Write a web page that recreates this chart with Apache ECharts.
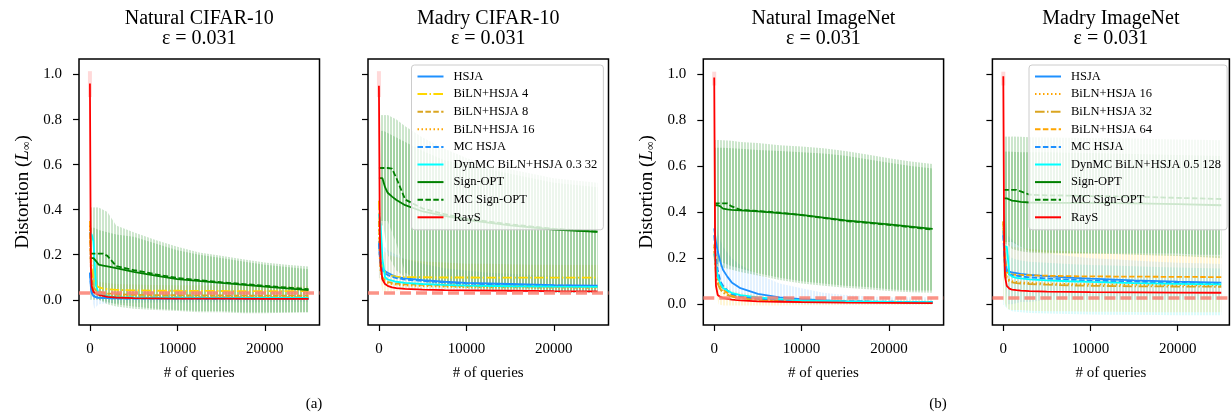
<!DOCTYPE html>
<html>
<head>
<meta charset="utf-8">
<script src="https://cdn.jsdelivr.net/npm/echarts@6/dist/echarts.min.js"></script>
<style>
  html, body { margin: 0; background: #fff; }
  #chart { width: 1232px; height: 419px; }
</style>
</head>
<body>
<div id="chart"></div>
<script>
// query grids
var Q = [0, 100, 200, 400, 700, 1000, 1500, 2000, 3000, 5000, 7500, 10000, 15000, 20000, 25000];
var BAND_Q = [0, 500, 1000, 2000, 3000, 5000, 7500, 10000, 12500, 15000, 17500, 20000, 22500, 25000];
var X_TICKS = [0, 10000, 20000];
var Y_TICKS = [0, 0.2, 0.4, 0.6, 0.8, 1.0];
var EPS = 0.031;

// (a) Natural CIFAR-10
var aHsja = [0.12, 0.06, 0.03, 0.016, 0.011, 0.009, 0.008, 0.007, 0.006, 0.006, 0.005, 0.005, 0.005, 0.005, 0.005];
var aBiln4 = [0.35, 0.22, 0.14, 0.09, 0.065, 0.056, 0.05, 0.047, 0.044, 0.042, 0.04, 0.04, 0.039, 0.038, 0.038];
var aBiln8 = [0.3, 0.16, 0.09, 0.055, 0.042, 0.036, 0.031, 0.028, 0.025, 0.022, 0.021, 0.02, 0.019, 0.018, 0.018];
var aBiln16 = [0.33, 0.15, 0.08, 0.045, 0.032, 0.026, 0.022, 0.02, 0.018, 0.016, 0.015, 0.014, 0.013, 0.013, 0.012];
var aMcHsja = [0.12, 0.07, 0.035, 0.018, 0.012, 0.009, 0.008, 0.007, 0.006, 0.005, 0.005, 0.005, 0.004, 0.004, 0.004];
var aDynmc = [0.3, 0.3, 0.29, 0.26, 0.06, 0.03, 0.02, 0.016, 0.012, 0.01, 0.009, 0.009, 0.008, 0.008, 0.008];
var aSignopt = [0.185, 0.185, 0.185, 0.185, 0.172, 0.156, 0.152, 0.148, 0.14, 0.124, 0.107, 0.092, 0.075, 0.058, 0.043];
var aMcSignopt = [0.205, 0.205, 0.205, 0.205, 0.205, 0.205, 0.205, 0.195, 0.15, 0.132, 0.113, 0.097, 0.078, 0.062, 0.047];
var aRays = [0.96, 0.15, 0.06, 0.035, 0.028, 0.022, 0.017, 0.013, 0.01, 0.007, 0.006, 0.005, 0.005, 0.004, 0.004];
var aRaysErr = [0.9, 1.015];
var aSignoptHi = [0.32, 0.32, 0.31, 0.30, 0.29, 0.28, 0.25, 0.22, 0.2, 0.185, 0.17, 0.155, 0.145, 0.135];
var aSignoptLo = [0.05, 0.05, 0.0, -0.01, -0.02, -0.03, -0.04, -0.045, -0.05, -0.05, -0.055, -0.055, -0.055, -0.055];
var aMcSignoptHi = [0.41, 0.41, 0.41, 0.39, 0.33, 0.3, 0.265, 0.235, 0.21, 0.195, 0.18, 0.165, 0.155, 0.148];
var aMcSignoptLo = [0.0, 0.0, 0.0, -0.02, -0.03, -0.04, -0.045, -0.05, -0.055, -0.055, -0.06, -0.06, -0.058, -0.055];
var aHsjaHi = [0.2, 0.05, 0.035, 0.03, 0.028, 0.026, 0.025, 0.024, 0.023, 0.022, 0.022, 0.021, 0.021, 0.02];
var aHsjaLo = [0.04, -0.04, -0.02, -0.015, -0.014, -0.013, -0.012, -0.012, -0.011, -0.011, -0.011, -0.01, -0.01, -0.01];
var aBilnHi = [0.5, 0.1, 0.08, 0.075, 0.07, 0.068, 0.066, 0.065, 0.064, 0.063, 0.062, 0.062, 0.061, 0.06];
var aBilnLo = [0.2, 0.0, 0.01, 0.015, 0.016, 0.017, 0.017, 0.018, 0.018, 0.018, 0.018, 0.018, 0.018, 0.018];

// (a) Madry CIFAR-10
var bHsja = [0.26, 0.2, 0.17, 0.14, 0.127, 0.12, 0.11, 0.102, 0.095, 0.087, 0.08, 0.075, 0.07, 0.065, 0.063];
var bBiln4 = [0.44, 0.3, 0.2, 0.145, 0.122, 0.112, 0.106, 0.103, 0.101, 0.1, 0.099, 0.099, 0.098, 0.098, 0.098];
var bBiln8 = [0.35, 0.2, 0.14, 0.1, 0.086, 0.08, 0.075, 0.072, 0.069, 0.066, 0.063, 0.061, 0.06, 0.058, 0.057];
var bBiln16 = [0.33, 0.18, 0.12, 0.09, 0.08, 0.075, 0.07, 0.067, 0.064, 0.061, 0.058, 0.056, 0.055, 0.054, 0.053];
var bMcHsja = [0.25, 0.19, 0.16, 0.13, 0.117, 0.11, 0.102, 0.096, 0.09, 0.083, 0.077, 0.072, 0.067, 0.063, 0.061];
var bDynmc = [0.38, 0.38, 0.33, 0.18, 0.1, 0.09, 0.085, 0.08, 0.075, 0.07, 0.066, 0.063, 0.06, 0.058, 0.057];
var bSignopt = [0.54, 0.54, 0.54, 0.54, 0.5, 0.475, 0.458, 0.443, 0.42, 0.392, 0.372, 0.355, 0.33, 0.312, 0.302];
var bMcSignopt = [0.585, 0.585, 0.585, 0.585, 0.585, 0.585, 0.582, 0.54, 0.445, 0.405, 0.38, 0.36, 0.335, 0.315, 0.302];
var bRays = [0.95, 0.3, 0.15, 0.09, 0.07, 0.062, 0.055, 0.052, 0.048, 0.045, 0.043, 0.042, 0.04, 0.038, 0.037];
var bRaysErr = [0.9, 1.015];
var bSignoptHi = [0.75, 0.75, 0.74, 0.72, 0.7, 0.66, 0.62, 0.6, 0.58, 0.56, 0.54, 0.52, 0.51, 0.5];
var bSignoptLo = [0.33, 0.33, 0.2, 0.13, 0.1, 0.08, 0.06, 0.05, 0.04, 0.04, 0.04, 0.03, 0.03, 0.03];
var bMcSignoptHi = [0.82, 0.82, 0.82, 0.8, 0.77, 0.72, 0.67, 0.63, 0.6, 0.58, 0.56, 0.54, 0.53, 0.52];
var bMcSignoptLo = [0.35, 0.35, 0.35, 0.25, 0.12, 0.08, 0.07, 0.06, 0.05, 0.05, 0.05, 0.04, 0.04, 0.04];
var bHsjaHi = [0.3, 0.24, 0.22, 0.2, 0.18, 0.16, 0.14, 0.13, 0.12, 0.115, 0.11, 0.105, 0.1, 0.1];
var bHsjaLo = [0.1, 0.08, 0.07, 0.06, 0.05, 0.04, 0.04, 0.04, 0.035, 0.035, 0.03, 0.03, 0.03, 0.03];
var bBilnHi = [0.5, 0.22, 0.2, 0.19, 0.18, 0.17, 0.165, 0.16, 0.16, 0.158, 0.156, 0.155, 0.155, 0.155];
var bBilnLo = [0.1, 0.03, 0.04, 0.04, 0.045, 0.045, 0.045, 0.045, 0.045, 0.045, 0.045, 0.045, 0.045, 0.045];

// (b) Natural ImageNet
var cHsja = [0.33, 0.3, 0.27, 0.23, 0.185, 0.15, 0.12, 0.095, 0.07, 0.045, 0.03, 0.022, 0.013, 0.009, 0.007];
var cBiln16 = [0.25, 0.2, 0.15, 0.1, 0.07, 0.055, 0.042, 0.035, 0.028, 0.02, 0.016, 0.013, 0.011, 0.01, 0.009];
var cBiln32 = [0.23, 0.18, 0.13, 0.09, 0.065, 0.05, 0.04, 0.033, 0.026, 0.019, 0.015, 0.012, 0.01, 0.009, 0.008];
var cBiln64 = [0.26, 0.22, 0.17, 0.12, 0.085, 0.065, 0.05, 0.04, 0.032, 0.023, 0.018, 0.015, 0.012, 0.01, 0.009];
var cMcHsja = [0.3, 0.25, 0.2, 0.15, 0.1, 0.08, 0.06, 0.045, 0.035, 0.025, 0.02, 0.017, 0.013, 0.011, 0.01];
var cDynmc = [0.22, 0.2, 0.17, 0.12, 0.09, 0.07, 0.06, 0.05, 0.04, 0.03, 0.022, 0.017, 0.012, 0.01, 0.009];
var cSignopt = [0.43, 0.43, 0.43, 0.43, 0.425, 0.415, 0.412, 0.41, 0.408, 0.403, 0.396, 0.388, 0.364, 0.347, 0.327];
var cMcSignopt = [0.438, 0.438, 0.438, 0.438, 0.438, 0.438, 0.438, 0.425, 0.41, 0.405, 0.398, 0.387, 0.362, 0.345, 0.324];
var cRays = [0.985, 0.25, 0.08, 0.04, 0.032, 0.028, 0.024, 0.02, 0.017, 0.013, 0.011, 0.009, 0.007, 0.006, 0.005];
var cRaysErr = [0.95, 1.01];
var cSignoptHi = [0.68, 0.68, 0.68, 0.678, 0.675, 0.67, 0.665, 0.66, 0.655, 0.645, 0.63, 0.615, 0.6, 0.59];
var cSignoptLo = [0.19, 0.185, 0.18, 0.165, 0.155, 0.135, 0.115, 0.1, 0.09, 0.08, 0.075, 0.065, 0.06, 0.06];
var cMcSignoptHi = [0.713, 0.713, 0.712, 0.71, 0.705, 0.7, 0.69, 0.685, 0.677, 0.665, 0.65, 0.634, 0.62, 0.609];
var cMcSignoptLo = [0.17, 0.165, 0.16, 0.15, 0.14, 0.125, 0.105, 0.09, 0.08, 0.072, 0.065, 0.058, 0.052, 0.05];
var cHsjaHi = [0.4, 0.3, 0.25, 0.2, 0.17, 0.13, 0.09, 0.07, 0.05, 0.04, 0.035, 0.03, 0.03, 0.03];
var cHsjaLo = [0.2, 0.1, 0.06, 0.03, 0.02, 0.01, 0.005, 0.0, 0.0, 0.0, 0.0, 0.0, 0.0, 0.0];
var cBilnHi = [0.35, 0.12, 0.09, 0.06, 0.05, 0.04, 0.03, 0.026, 0.024, 0.022, 0.02, 0.02, 0.02, 0.02];
var cBilnLo = [0.1, 0.0, -0.005, -0.005, -0.005, -0.005, -0.005, -0.004, -0.004, -0.003, -0.003, -0.003, -0.003, -0.003];

// (b) Madry ImageNet
var dHsja = [0.32, 0.25, 0.2, 0.15, 0.142, 0.138, 0.135, 0.132, 0.128, 0.122, 0.116, 0.111, 0.104, 0.098, 0.094];
var dBiln16 = [0.35, 0.25, 0.18, 0.12, 0.105, 0.1, 0.097, 0.095, 0.093, 0.09, 0.088, 0.087, 0.085, 0.083, 0.082];
var dBiln32 = [0.36, 0.22, 0.15, 0.11, 0.1, 0.095, 0.092, 0.09, 0.088, 0.085, 0.082, 0.08, 0.078, 0.077, 0.076];
var dBiln64 = [0.36, 0.28, 0.2, 0.14, 0.132, 0.13, 0.128, 0.127, 0.126, 0.124, 0.122, 0.121, 0.12, 0.119, 0.118];
var dMcHsja = [0.3, 0.22, 0.17, 0.14, 0.13, 0.127, 0.124, 0.121, 0.117, 0.112, 0.107, 0.103, 0.098, 0.094, 0.091];
var dDynmc = [0.25, 0.25, 0.25, 0.25, 0.13, 0.12, 0.115, 0.112, 0.108, 0.104, 0.1, 0.097, 0.092, 0.089, 0.086];
var dSignopt = [0.46, 0.46, 0.46, 0.46, 0.455, 0.45, 0.448, 0.445, 0.442, 0.44, 0.44, 0.44, 0.438, 0.435, 0.43];
var dMcSignopt = [0.497, 0.497, 0.497, 0.497, 0.497, 0.497, 0.497, 0.49, 0.476, 0.473, 0.472, 0.47, 0.467, 0.462, 0.457];
var dRays = [0.99, 0.25, 0.12, 0.08, 0.068, 0.064, 0.061, 0.059, 0.057, 0.055, 0.054, 0.053, 0.052, 0.051, 0.05];
var dRaysErr = [0.95, 1.01];
var dSignoptHi = [0.663, 0.663, 0.662, 0.66, 0.66, 0.66, 0.658, 0.657, 0.655, 0.653, 0.65, 0.648, 0.646, 0.644];
var dSignoptLo = [0.26, 0.26, 0.24, 0.23, 0.225, 0.22, 0.22, 0.22, 0.22, 0.22, 0.22, 0.22, 0.215, 0.215];
var dMcSignoptHi = [0.728, 0.728, 0.728, 0.727, 0.725, 0.724, 0.723, 0.722, 0.721, 0.72, 0.718, 0.716, 0.714, 0.712];
var dMcSignoptLo = [0.27, 0.27, 0.27, 0.25, 0.23, 0.225, 0.222, 0.22, 0.218, 0.215, 0.212, 0.21, 0.205, 0.2];
var dHsjaHi = [0.45, 0.3, 0.28, 0.25, 0.23, 0.22, 0.21, 0.2, 0.195, 0.19, 0.185, 0.18, 0.178, 0.175];
var dHsjaLo = [0.15, 0.0, 0.0, 0.01, 0.01, 0.02, 0.02, 0.02, 0.02, 0.02, 0.02, 0.02, 0.02, 0.02];
var dBilnHi = [0.4, 0.27, 0.25, 0.245, 0.24, 0.235, 0.23, 0.225, 0.222, 0.22, 0.218, 0.215, 0.212, 0.21];
var dBilnLo = [0.02, -0.02, -0.025, -0.025, -0.028, -0.03, -0.03, -0.032, -0.033, -0.034, -0.035, -0.035, -0.035, -0.035];
var dDynHi = [0.3, 0.22, 0.2, 0.19, 0.185, 0.18, 0.175, 0.17, 0.168, 0.165, 0.162, 0.16, 0.158, 0.155];
var dDynLo = [0.0, -0.02, -0.03, -0.035, -0.038, -0.04, -0.042, -0.044, -0.045, -0.046, -0.047, -0.048, -0.048, -0.048];

var FONT = 'Liberation Serif';
var DASHED = [5.5, 2.4];
var DASHDOT = [9.6, 2.4, 1.5, 2.4];
var DOTTED = [1.5, 2.5];

var STYLE = {
  'HSJA': ['#1e90ff', 'solid'],
  'BiLN+HSJA 4': ['#ffd700', DASHDOT],
  'BiLN+HSJA 8': ['#daa520', DASHED],
  'BiLN+HSJA 16': ['#ffa500', DOTTED],
  'BiLN+HSJA 32': ['#daa520', DASHDOT],
  'BiLN+HSJA 64': ['#ffa500', DASHED],
  'MC HSJA': ['#1e90ff', DASHED],
  'DynMC BiLN+HSJA 0.3 32': ['#00ffff', 'solid'],
  'DynMC BiLN+HSJA 0.5 128': ['#00ffff', 'solid'],
  'Sign-OPT': ['#008000', 'solid'],
  'MC Sign-OPT': ['#008000', DASHED],
  'RayS': ['#ff0000', 'solid']
};

// vertical stripe fill, like the dense error bars
function stripes(color) {
  var c = document.createElement('canvas');
  c.width = 3;
  c.height = 4;
  var ctx = c.getContext('2d');
  ctx.fillStyle = color;
  ctx.fillRect(0, 0, 2, 4);
  return { image: c, repeat: 'repeat' };
}
var GREEN = stripes('rgba(0,128,0,0.2)');
var BLUE = stripes('rgba(30,144,255,0.12)');
var GOLD = stripes('rgba(255,200,0,0.16)');
var CYAN = stripes('rgba(0,230,230,0.14)');

var panels = [
  {
    title: 'Natural CIFAR-10', left: 79, width: 240.5, xMax: 26250, yMin: -0.112, yMax: 1.069, labels: true,
    lines: [['HSJA', aHsja], ['BiLN+HSJA 4', aBiln4], ['BiLN+HSJA 8', aBiln8], ['BiLN+HSJA 16', aBiln16],
      ['MC HSJA', aMcHsja], ['DynMC BiLN+HSJA 0.3 32', aDynmc], ['Sign-OPT', aSignopt], ['MC Sign-OPT', aMcSignopt], ['RayS', aRays]],
    bands: [[aBilnLo, aBilnHi, GOLD], [aHsjaLo, aHsjaHi, BLUE], [aSignoptLo, aSignoptHi, GREEN], [aMcSignoptLo, aMcSignoptHi, GREEN]],
    spike: aRaysErr
  },
  {
    title: 'Madry CIFAR-10', left: 368, width: 240.5, xMax: 26250, yMin: -0.112, yMax: 1.069, labels: false, legendLeft: 411.5,
    lines: [['HSJA', bHsja], ['BiLN+HSJA 4', bBiln4], ['BiLN+HSJA 8', bBiln8], ['BiLN+HSJA 16', bBiln16],
      ['MC HSJA', bMcHsja], ['DynMC BiLN+HSJA 0.3 32', bDynmc], ['Sign-OPT', bSignopt], ['MC Sign-OPT', bMcSignopt], ['RayS', bRays]],
    bands: [[bBilnLo, bBilnHi, GOLD], [bHsjaLo, bHsjaHi, BLUE], [bSignoptLo, bSignoptHi, GREEN], [bMcSignoptLo, bMcSignoptHi, GREEN]],
    spike: bRaysErr
  },
  {
    title: 'Natural ImageNet', left: 703.3, width: 240.3, xMax: 26250, yMin: -0.09, yMax: 1.065, labels: true,
    lines: [['HSJA', cHsja], ['BiLN+HSJA 16', cBiln16], ['BiLN+HSJA 32', cBiln32], ['BiLN+HSJA 64', cBiln64],
      ['MC HSJA', cMcHsja], ['DynMC BiLN+HSJA 0.5 128', cDynmc], ['Sign-OPT', cSignopt], ['MC Sign-OPT', cMcSignopt], ['RayS', cRays]],
    bands: [[cBilnLo, cBilnHi, GOLD], [cHsjaLo, cHsjaHi, BLUE], [cSignoptLo, cSignoptHi, GREEN], [cMcSignoptLo, cMcSignoptHi, GREEN]],
    spike: cRaysErr
  },
  {
    title: 'Madry ImageNet', left: 992.4, width: 237, xMax: 25930, yMin: -0.09, yMax: 1.065, labels: false, legendLeft: 1029,
    lines: [['HSJA', dHsja], ['BiLN+HSJA 16', dBiln16], ['BiLN+HSJA 32', dBiln32], ['BiLN+HSJA 64', dBiln64],
      ['MC HSJA', dMcHsja], ['DynMC BiLN+HSJA 0.5 128', dDynmc], ['Sign-OPT', dSignopt], ['MC Sign-OPT', dMcSignopt], ['RayS', dRays]],
    bands: [[dDynLo, dDynHi, CYAN], [dBilnLo, dBilnHi, GOLD], [dHsjaLo, dHsjaHi, BLUE], [dSignoptLo, dSignoptHi, GREEN], [dMcSignoptLo, dMcSignoptHi, GREEN]],
    spike: dRaysErr
  }
];

var chart = echarts.init(document.getElementById('chart'));

var grids = [], xAxes = [], yAxes = [], titles = [], legends = [], series = [];
var txt = { fontFamily: FONT, fontSize: 15, color: '#000' };

panels.forEach(function (p, i) {
  grids.push({ left: p.left, top: 59, width: p.width, height: 266, show: true, borderColor: '#000', borderWidth: 1.5 });
  titles.push({
    text: p.title + '\nε = ' + EPS, left: p.left + p.width / 2, top: 9, textAlign: 'center', padding: 0,
    textStyle: { fontFamily: FONT, fontSize: 20, fontWeight: 'normal', color: '#000', lineHeight: 20 }
  });
  xAxes.push({
    type: 'value', gridIndex: i, min: -1250, max: p.xMax,
    axisLine: { show: false, onZero: false },
    axisTick: { show: true, length: 6, customValues: X_TICKS, lineStyle: { color: '#000', width: 1.2 } },
    axisLabel: Object.assign({ customValues: X_TICKS, margin: 17,
      formatter: function (v) { return String(v); } }, txt),
    splitLine: { show: false },
    name: '# of queries', nameLocation: 'middle', nameGap: 41, nameTextStyle: txt
  });
  var y = {
    type: 'value', gridIndex: i, min: p.yMin, max: p.yMax,
    axisLine: { show: false, onZero: false },
    axisTick: { show: true, length: 6, customValues: Y_TICKS, lineStyle: { color: '#000', width: 1.2 } },
    axisLabel: Object.assign({ show: p.labels, customValues: Y_TICKS, margin: 17,
      formatter: function (v) { return v.toFixed(1); } }, txt),
    splitLine: { show: false }
  };
  if (p.labels) {
    y.name = 'Distortion ({i|L}{s|∞})';
    y.nameLocation = 'middle';
    y.nameGap = 46;
    y.nameTextStyle = {
      fontFamily: FONT, fontSize: 19, color: '#000',
      rich: {
        i: { fontFamily: FONT, fontSize: 19, fontStyle: 'italic', color: '#000' },
        s: { fontFamily: FONT, fontSize: 12, color: '#000', padding: [8, 0, 0, 0] }
      }
    };
  }
  yAxes.push(y);

  // error bands drawn as striped polygons
  p.bands.forEach(function (b) {
    var lo = b[0], hi = b[1];
    var rows = BAND_Q.map(function (q, k) { return [q, lo[k], hi[k]]; });
    series.push({
      type: 'custom', xAxisIndex: i, yAxisIndex: i, silent: true, z: 1, clip: true,
      data: rows,
      renderItem: function (params, api) {
        var k = params.dataIndex;
        if (k >= rows.length - 1) return null;
        var n = rows[k + 1];
        var pts = [
          api.coord([rows[k][0], rows[k][2]]), api.coord([n[0], n[2]]),
          api.coord([n[0], n[1]]), api.coord([rows[k][0], rows[k][1]])
        ];
        return { type: 'polygon', shape: { points: pts }, style: { fill: b[2] } };
      }
    });
  });

  // RayS error at the very first query
  series.push({
    type: 'custom', xAxisIndex: i, yAxisIndex: i, silent: true, z: 1,
    data: [[0, p.spike[0], p.spike[1]]],
    renderItem: function (params, api) {
      var top = api.coord([api.value(0), api.value(2)]);
      var bot = api.coord([api.value(0), api.value(1)]);
      return { type: 'rect', shape: { x: top[0] - 2, y: top[1], width: 4, height: bot[1] - top[1] }, style: { fill: 'rgba(255,0,0,0.15)' } };
    }
  });

  p.lines.forEach(function (l) {
    var st = STYLE[l[0]];
    var s = {
      type: 'line', name: l[0], xAxisIndex: i, yAxisIndex: i, z: 2, silent: true,
      symbol: 'none', showSymbol: false,
      data: Q.map(function (q, k) { return [q, l[1][k]]; }),
      itemStyle: { color: st[0] },
      lineStyle: { color: st[0], width: 1.8, type: st[1] }
    };
    if (l[0] === 'RayS') {
      s.markLine = {
        silent: true, symbol: 'none', label: { show: false },
        lineStyle: { color: '#fa8072', width: 3.5, type: [11, 5], opacity: 0.85 },
        data: [{ yAxis: EPS }]
      };
    }
    series.push(s);
  });

  if (p.legendLeft) {
    legends.push({
      data: p.lines.map(function (l) { return l[0]; }),
      orient: 'vertical', left: p.legendLeft, top: 65, selectedMode: false,
      itemWidth: 26, itemHeight: 12, itemGap: 4.6, padding: [5, 6, 6, 5],
      itemStyle: { color: 'rgba(0,0,0,0)', borderColor: 'rgba(0,0,0,0)', borderWidth: 0, opacity: 0 },
      backgroundColor: 'rgba(255,255,255,0.8)', borderColor: '#cccccc', borderWidth: 1, borderRadius: 3,
      textStyle: { fontFamily: FONT, fontSize: 12.5, color: '#000', padding: [0, 0, 0, 5] }
    });
  }
});

var option = {
  animation: false,
  backgroundColor: '#fff',
  title: titles,
  grid: grids,
  xAxis: xAxes,
  yAxis: yAxes,
  legend: legends,
  series: series,
  graphic: [
    { type: 'text', x: 314, y: 404, style: { text: '(a)', font: '15px ' + FONT, fill: '#000', textAlign: 'center', textVerticalAlign: 'middle', align: 'center', verticalAlign: 'middle' } },
    { type: 'text', x: 938, y: 404, style: { text: '(b)', font: '15px ' + FONT, fill: '#000', textAlign: 'center', textVerticalAlign: 'middle', align: 'center', verticalAlign: 'middle' } }
  ]
};

option && chart.setOption(option);
</script>
</body>
</html>
